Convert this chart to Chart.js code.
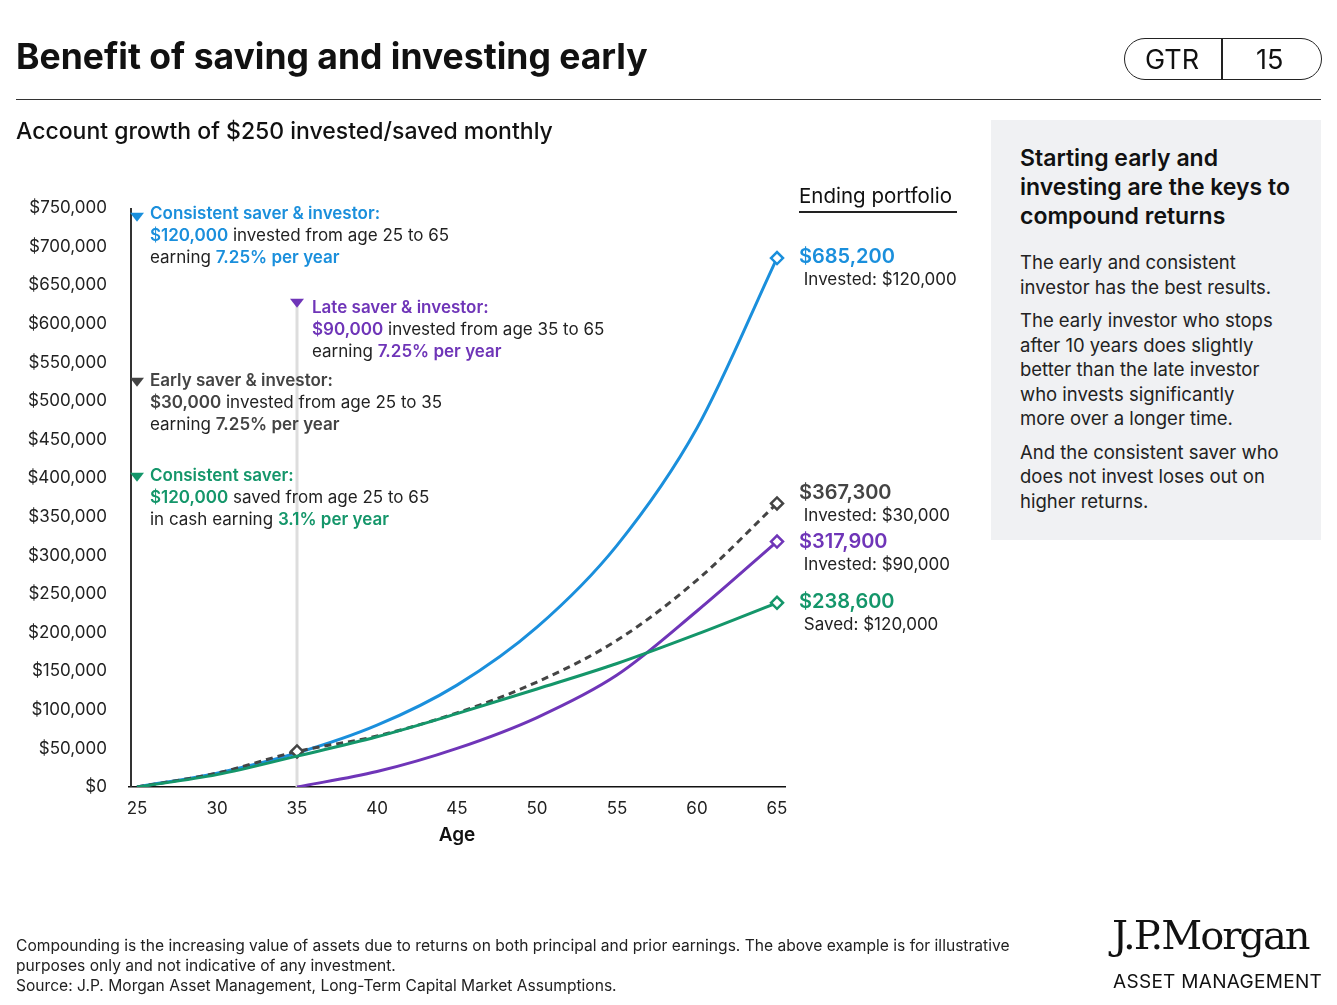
<!DOCTYPE html>
<html><head><meta charset="utf-8">
<script src="https://cdn.jsdelivr.net/npm/chart.js@4"></script>
<style>
body{margin:0;width:1337px;height:1005px;background:#fff;font-family:Inter,"Noto Sans",sans-serif;color:#111;position:relative;overflow:hidden}
.a{position:absolute;white-space:nowrap}
#c{position:absolute;left:0;top:0}
.t{font-size:17px;line-height:22px;color:#222}
.blue{color:#1a8fdc}.pur{color:#6f35b8}.gry{color:#444}.grn{color:#14966a}
b{font-weight:600}
</style></head><body>
<canvas id="c" width="1337" height="1005"></canvas>
<div class="a" style="left:16px;top:35px;font-size:35.5px;font-weight:700">Benefit of saving and investing early</div>
<div class="a" style="left:1124px;top:38px;width:196px;height:40px;border:1.5px solid #222;border-radius:22px"></div>
<div class="a" style="left:1221px;top:38px;width:1.5px;height:41px;background:#222"></div>
<div class="a" style="left:1145px;top:43px;font-size:27px">GTR</div>
<div class="a" style="left:1256px;top:43px;font-size:27px">15</div>
<div class="a" style="left:16px;top:99px;width:1305px;height:1px;background:#333"></div>
<div class="a" style="left:16px;top:117px;font-size:23px;font-weight:500">Account growth of $250 invested/saved monthly</div>
<div class="a" style="left:799px;top:183px;font-size:20.5px">Ending portfolio</div>
<div class="a" style="left:799px;top:211px;width:158px;height:2px;background:#222"></div>

<div class="a t" style="left:150px;top:202px"><b class="blue">Consistent saver &amp; investor:</b><br><b class="blue">$120,000</b> invested from age 25 to 65<br>earning <b class="blue">7.25% per year</b></div>
<div class="a t" style="left:312px;top:296px"><b class="pur">Late saver &amp; investor:</b><br><b class="pur">$90,000</b> invested from age 35 to 65<br>earning <b class="pur">7.25% per year</b></div>
<div class="a t" style="left:150px;top:369px"><b class="gry">Early saver &amp; investor:</b><br><b class="gry">$30,000</b> invested from age 25 to 35<br>earning <b class="gry">7.25% per year</b></div>
<div class="a t" style="left:150px;top:464px"><b class="grn">Consistent saver:</b><br><b class="grn">$120,000</b> saved from age 25 to 65<br>in cash earning <b class="grn">3.1% per year</b></div>

<div class="a t" style="left:799px;top:245px"><b class="blue" style="font-size:20px">$685,200</b><br>&nbsp;Invested: $120,000</div>
<div class="a t" style="left:799px;top:481px"><b class="gry" style="font-size:20px">$367,300</b><br>&nbsp;Invested: $30,000</div>
<div class="a t" style="left:799px;top:530px"><b class="pur" style="font-size:20px">$317,900</b><br>&nbsp;Invested: $90,000</div>
<div class="a t" style="left:799px;top:590px"><b class="grn" style="font-size:20px">$238,600</b><br>&nbsp;Saved: $120,000</div>

<div class="a" style="left:991px;top:120px;width:330px;height:420px;background:#f0f1f3"></div>
<div class="a" style="left:1020px;top:144px;font-size:23px;font-weight:600;line-height:29px">Starting early and<br>investing are the keys to<br>compound returns</div>
<div class="a" style="left:1020px;top:250px;font-size:18.5px;line-height:24.5px;color:#222">The early and consistent<br>investor has the best results.<br><div style="height:9px"></div>The early investor who stops<br>after 10 years does slightly<br>better than the late investor<br>who invests significantly<br>more over a longer time.<br><div style="height:9px"></div>And the consistent saver who<br>does not invest loses out on<br>higher returns.</div>

<div class="a" style="left:16px;top:936px;font-size:15.6px;line-height:20px;color:#222">Compounding is the increasing value of assets due to returns on both principal and prior earnings. The above example is for illustrative<br>purposes only and not indicative of any investment.<br>Source: J.P. Morgan Asset Management, Long-Term Capital Market Assumptions.</div>
<div class="a" style="left:1112px;top:912px;font-size:40px;font-family:'DejaVu Serif','Liberation Serif',serif;letter-spacing:-2px">J.P.Morgan</div>
<div class="a" style="left:1113px;top:970px;font-size:19px;letter-spacing:0.3px">ASSET MANAGEMENT</div>
<script>
const ages = [25, 30, 35, 40, 45, 50, 55, 60, 65];
const consistentInvestor = [0, 18000, 44000, 80000, 132000, 207000, 313000, 465000, 685200];
const earlyInvestor = [0, 18000, 46000, 66000, 96000, 136000, 190000, 268000, 367300];
const lateInvestor = [null, null, 0, 20000, 50000, 90000, 145000, 228000, 317900];
const consistentSaver = [0, 16000, 40000, 65000, 95000, 127000, 160000, 198000, 238600];
const yTicks = [0, 50000, 100000, 150000, 200000, 250000, 300000, 350000, 400000, 450000, 500000, 550000, 600000, 650000, 700000, 750000];

const pts = a => ages.map((x, i) => ({x, y: a[i]})).filter(p => p.y !== null);
const mark = idx => (ctx) => idx.includes(ctx.dataIndex) ? 6 : 0;
function ds(data, color, idx, dash) {
  return {data: pts(data), borderColor: color, borderWidth: 3, borderDash: dash || [],
    cubicInterpolationMode: 'monotone', pointStyle: 'rectRot', pointBackgroundColor: '#fff',
    pointBorderColor: color, pointBorderWidth: 2.5, pointRadius: mark(idx)};
}
const vlines = {
  id: 'vlines',
  beforeDatasetsDraw(chart) {
    const {ctx, scales: {x, y}} = chart;
    ctx.save();
    ctx.fillStyle = '#ddd';
    ctx.fillRect(x.getPixelForValue(35) - 1.5, y.getPixelForValue(630000), 3, y.getPixelForValue(0) - y.getPixelForValue(630000));
    ctx.strokeStyle = '#333'; ctx.lineWidth = 2;
    ctx.beginPath(); ctx.moveTo(x.left + 2, y.getPixelForValue(750000)); ctx.lineTo(x.left + 2, y.getPixelForValue(0)); ctx.stroke();
    const tri = (yv, c) => { const py = y.getPixelForValue(yv); ctx.fillStyle = c; ctx.beginPath();
      ctx.moveTo(x.left + 1, py); ctx.lineTo(x.left + 15, py); ctx.lineTo(x.left + 8, py + 9); ctx.fill(); };
    tri(744000, '#1a8fdc'); tri(530000, '#444'); tri(407000, '#14966a');
    const py = y.getPixelForValue(630000), px = x.getPixelForValue(35);
    ctx.fillStyle = '#6f35b8'; ctx.beginPath(); ctx.moveTo(px - 7, py - 2); ctx.lineTo(px + 7, py - 2); ctx.lineTo(px, py + 7); ctx.fill();
    ctx.restore();
  }
};
new Chart(document.getElementById('c'), {
  type: 'line',
  data: {datasets: [
    ds(consistentSaver, '#14966a', [8]),
    ds(lateInvestor, '#6f35b8', [6]),
    ds(earlyInvestor, '#444', [2, 8], [7, 5]),
    ds(consistentInvestor, '#1a8fdc', [8]),
  ]},
  options: {
    responsive: false, animation: false,
    layout: {padding: {left: 8, right: 552, top: 208, bottom: 158}},
    plugins: {legend: {display: false}, tooltip: {enabled: false}},
    scales: {
      x: {type: 'linear', min: 24.5, max: 65.5,
        afterBuildTicks: s => { s.ticks = ages.map(v => ({value: v})); },
        afterFit: s => { s.height = 60; },
        grid: {display: false}, border: {color: '#111', width: 1.5},
        ticks: {color: '#222', font: {family: 'Inter', size: 17}, padding: 4},
        title: {display: true, text: 'Age', color: '#111', font: {family: 'Inter', size: 19, weight: '600'}, padding: 0}},
      y: {min: 0, max: 750000,
        afterBuildTicks: s => { s.ticks = yTicks.map(v => ({value: v})); },
        afterFit: s => { s.width = 121; },
        grid: {display: false}, border: {display: false},
        ticks: {color: '#222', font: {family: 'Inter', size: 17}, padding: 14,
          callback: v => '$' + v.toLocaleString('en-US')}}
    }
  },
  plugins: [vlines]
});
</script>
</body></html>
